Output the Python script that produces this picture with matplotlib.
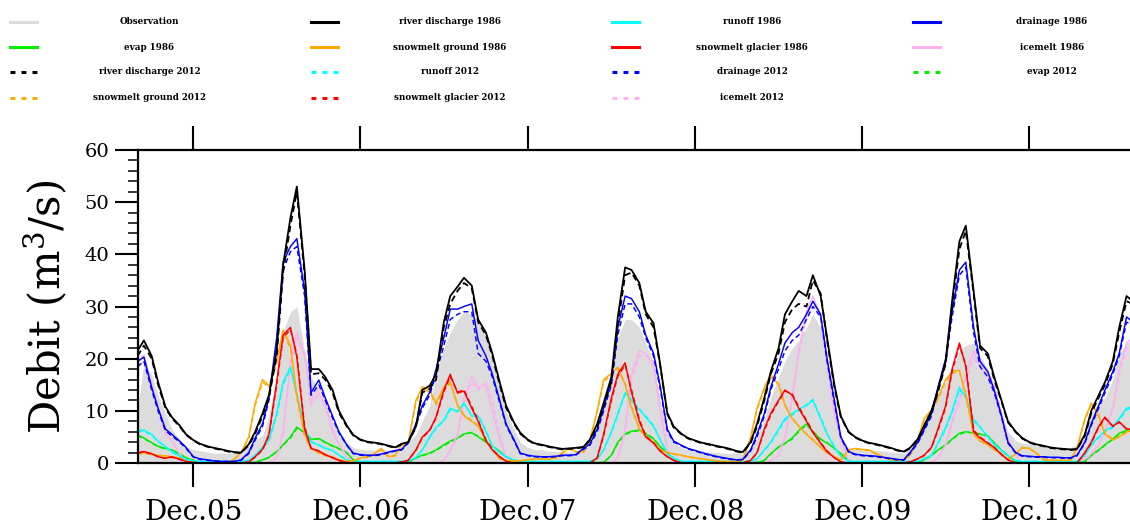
# Debit simulations 1986 / 2012 vs observation, half-monthly values
import matplotlib
matplotlib.use('Agg')
import matplotlib.pyplot as plt
import matplotlib.dates as mdates
from matplotlib.lines import Line2D
from matplotlib.ticker import MultipleLocator, FixedLocator
import pandas as pd

plt.rcParams['font.family'] = 'DejaVu Serif'
plt.rcParams['mathtext.fontset'] = 'dejavuserif'

# one value on the 1st and the 15th of each month, Aug 2005 - Aug 2011
dates = pd.date_range('2005-08-01', periods=145, freq='SMS')
# tick positions: 1st of December of each year
tick_dates = pd.to_datetime(['2005-12-01', '2006-12-01', '2007-12-01',
                             '2008-12-01', '2009-12-01', '2010-12-01'])

observation = [
    10.0, 19.0, 17.0, 13.0, 9.6, 6.5, 4.5, 3.1, 2.6, 2.4, 2.1, 1.9, 1.9, 1.9, 1.9, 2.3, 3.3, 4.5, 5.2, 9.0, 16.5, 25.0, 29.0, 29.9,
    21.5, 16.5, 14.0, 11.0, 8.0, 6.0, 4.0, 3.0, 2.6, 2.5, 2.5, 2.5, 2.5, 2.5, 3.0, 4.0, 5.5, 8.0, 11.0, 17.0, 22.0, 25.0, 27.5, 29.0,
    28.5, 27.0, 24.0, 20.0, 14.5, 9.8, 6.5, 4.0, 3.0, 2.6, 2.5, 2.3, 2.2, 2.1, 2.1, 2.2, 2.6, 3.4, 6.0, 10.5, 16.0, 24.0, 27.5, 27.5,
    26.0, 23.0, 19.2, 12.0, 6.0, 3.8, 3.0, 2.6, 2.4, 2.3, 2.1, 2.0, 1.9, 1.9, 1.9, 2.0, 3.0, 5.0, 8.5, 12.5, 16.5, 19.5, 22.0, 23.5,
    26.0, 28.5, 26.0, 19.0, 11.0, 5.0, 3.0, 2.6, 2.5, 2.5, 2.4, 2.3, 2.1, 2.0, 1.9, 2.8, 4.5, 6.5, 9.5, 12.7, 15.5, 18.0, 21.5, 22.5,
    23.0, 20.5, 18.0, 14.5, 10.0, 6.0, 4.3, 3.8, 3.6, 3.4, 3.1, 2.8, 2.6, 2.6, 3.0, 3.6, 5.5, 9.5, 11.5, 12.5, 16.0, 21.0, 23.0, 23.5,
    23.0,
]

river_1986 = [
    21.5, 23.5, 20.5, 15.5, 10.8, 8.8, 7.2, 5.5, 4.4, 3.7, 3.2, 2.9, 2.6, 2.3, 2.1, 2.0, 3.6, 6.0, 9.5, 13.0, 21.5, 38.0, 47.0, 53.0,
    37.0, 18.0, 18.0, 16.5, 14.0, 10.0, 7.2, 5.4, 4.5, 4.1, 3.9, 3.7, 3.3, 3.0, 3.7, 4.0, 7.0, 14.0, 14.8, 17.0, 27.0, 32.0, 33.8, 35.5,
    34.0, 27.5, 25.0, 21.0, 15.5, 11.0, 7.8, 5.8, 4.5, 3.8, 3.5, 3.2, 2.9, 2.7, 2.8, 2.9, 3.1, 4.5, 7.5, 11.5, 16.5, 28.0, 37.5, 37.0,
    34.5, 29.0, 26.8, 19.2, 9.6, 7.0, 5.6, 4.8, 4.3, 3.9, 3.6, 3.3, 3.0, 2.7, 2.3, 2.1, 4.0, 7.5, 12.5, 17.5, 22.0, 28.5, 31.0, 33.0,
    32.0, 36.0, 32.0, 24.0, 15.0, 9.0, 6.0, 5.0, 4.3, 3.9, 3.6, 3.3, 2.9, 2.5, 2.2, 2.9, 4.6, 7.2, 10.0, 14.0, 19.5, 31.0, 42.5, 45.5,
    33.0, 22.5, 21.0, 16.5, 12.0, 8.0, 6.0, 4.8, 4.0, 3.6, 3.3, 3.0, 2.8, 2.7, 2.6, 2.7, 5.5, 10.0, 13.0, 15.5, 19.5, 26.0, 32.0, 31.0,
    30.0,
]
river_2012 = [
    20.5, 22.5, 20.0, 15.0, 10.5, 8.6, 7.0, 5.4, 4.3, 3.6, 3.1, 2.8, 2.5, 2.2, 2.0, 1.9, 3.4, 5.6, 9.0, 12.5, 20.5, 36.5, 45.5, 52.0,
    36.0, 17.0, 17.2, 16.0, 13.5, 9.6, 7.0, 5.3, 4.4, 4.0, 3.8, 3.6, 3.2, 2.9, 3.6, 3.9, 6.8, 13.5, 14.2, 16.0, 26.0, 30.5, 33.0, 34.5,
    33.5, 27.0, 24.5, 20.5, 15.0, 10.6, 7.6, 5.6, 4.4, 3.7, 3.4, 3.1, 2.8, 2.6, 2.7, 2.8, 3.0, 4.3, 7.0, 11.0, 15.5, 26.5, 36.0, 36.5,
    34.0, 28.5, 26.0, 19.0, 9.4, 6.8, 5.5, 4.7, 4.2, 3.8, 3.5, 3.2, 2.9, 2.6, 2.2, 2.0, 3.8, 7.0, 12.0, 17.0, 21.0, 27.0, 29.5, 30.5,
    30.0, 35.0, 32.5, 23.5, 14.5, 8.8, 5.9, 4.9, 4.2, 3.8, 3.5, 3.2, 2.8, 2.4, 2.1, 2.8, 4.4, 7.0, 9.6, 13.5, 19.0, 30.0, 41.0, 44.5,
    32.5, 22.0, 20.5, 16.0, 11.8, 7.8, 5.9, 4.7, 3.9, 3.5, 3.2, 2.9, 2.7, 2.6, 2.5, 2.6, 5.2, 9.6, 12.5, 15.0, 19.0, 25.0, 31.0, 30.5,
    29.5,
]

drainage_1986 = [
    19.5, 20.3, 14.5, 10.5, 6.5, 5.5, 4.2, 3.0, 1.2, 0.8, 0.6, 0.4, 0.3, 0.3, 0.3, 0.6, 2.0, 4.8, 7.5, 12.5, 24.0, 38.5, 41.5, 43.0,
    33.0, 13.5, 15.9, 12.5, 9.0, 6.0, 3.5, 1.9, 1.6, 1.5, 1.5, 1.7, 2.1, 2.4, 2.6, 4.0, 7.5, 11.0, 13.5, 18.0, 24.0, 29.5, 29.5, 30.0,
    30.5, 23.5, 20.5, 17.0, 12.0, 7.5, 4.5, 1.9, 1.5, 1.3, 1.2, 1.2, 1.3, 1.5, 1.5, 1.6, 2.8, 3.6, 6.5, 10.5, 16.0, 26.0, 32.0, 31.5,
    29.0, 24.5, 21.0, 15.0, 6.5, 4.2, 3.4, 2.8, 2.4, 2.0, 1.6, 1.3, 1.0, 0.8, 0.6, 0.7, 2.5, 5.5, 9.5, 14.5, 19.0, 23.0, 25.0, 26.0,
    28.5, 31.0, 28.5, 20.0, 12.0, 5.0, 2.2, 1.7, 1.5, 1.4, 1.3, 1.1, 0.9, 0.7, 0.6, 2.0, 4.0, 6.5, 9.5, 14.5, 20.0, 29.0, 37.0, 38.5,
    26.0, 19.5, 17.5, 14.0, 9.0, 4.0, 2.0, 1.4, 1.3, 1.2, 1.2, 1.1, 1.1, 1.0, 1.0, 1.5, 4.0, 7.5, 11.0, 14.0, 17.5, 21.0, 28.0, 27.0,
    26.0,
]
drainage_2012 = [
    18.5, 19.5, 14.0, 10.0, 6.2, 5.2, 4.0, 2.8, 1.1, 0.7, 0.5, 0.4, 0.3, 0.3, 0.3, 0.5, 1.8, 4.4, 7.0, 12.0, 23.0, 37.0, 40.5, 41.5,
    32.0, 13.0, 15.0, 12.0, 8.6, 5.8, 3.4, 1.8, 1.5, 1.4, 1.4, 1.6, 2.0, 2.3, 2.5, 3.8, 7.2, 10.5, 13.0, 17.0, 22.5, 27.5, 28.5, 29.0,
    29.0, 21.0, 19.5, 16.5, 11.5, 7.2, 4.3, 1.8, 1.4, 1.2, 1.1, 1.1, 1.2, 1.4, 1.4, 1.5, 2.6, 3.4, 6.0, 10.0, 15.0, 24.5, 30.5, 30.5,
    28.0, 24.0, 20.5, 14.5, 6.2, 4.0, 3.3, 2.7, 2.3, 1.9, 1.5, 1.2, 0.9, 0.7, 0.6, 0.6, 2.3, 5.0, 9.0, 14.0, 18.0, 21.5, 23.5, 24.5,
    27.5, 30.0, 28.0, 19.5, 11.5, 4.8, 2.1, 1.6, 1.4, 1.3, 1.2, 1.0, 0.8, 0.6, 0.5, 1.8, 3.8, 6.2, 9.0, 14.0, 19.5, 28.0, 36.0, 37.5,
    25.0, 18.5, 16.5, 13.5, 8.8, 3.8, 1.9, 1.3, 1.2, 1.1, 1.1, 1.0, 1.0, 0.9, 0.9, 1.4, 3.8, 7.2, 10.5, 13.5, 17.0, 20.5, 27.0, 26.5,
    25.5,
]

runoff_1986 = [
    6.3, 6.3, 5.5, 4.2, 3.2, 2.2, 1.4, 0.7, 0.4, 0.3, 0.3, 0.3, 0.3, 0.3, 0.3, 0.3, 0.5, 1.5, 3.0, 4.4, 9.5, 15.5, 18.4, 13.0,
    6.5, 4.0, 3.4, 2.8, 2.4, 1.5, 0.6, 0.3, 0.3, 0.3, 0.3, 0.3, 0.3, 0.3, 0.3, 0.4, 1.0, 2.5, 5.0, 6.8, 8.2, 10.5, 9.8, 11.5,
    9.0, 9.0, 6.0, 3.2, 2.0, 1.2, 0.6, 0.3, 0.3, 0.3, 0.3, 0.3, 0.3, 0.3, 0.3, 0.3, 0.3, 0.3, 0.8, 2.5, 6.0, 9.5, 13.5, 12.0,
    10.2, 8.8, 7.0, 4.5, 1.9, 1.0, 0.3, 0.3, 0.3, 0.3, 0.3, 0.3, 0.3, 0.3, 0.3, 0.3, 0.3, 0.8, 2.5, 4.0, 6.5, 8.5, 9.5, 10.3,
    11.0, 12.0, 8.5, 5.5, 3.0, 1.3, 0.3, 0.3, 0.3, 0.3, 0.3, 0.3, 0.3, 0.3, 0.3, 0.3, 0.3, 0.8, 1.5, 3.8, 6.8, 10.0, 14.5, 12.5,
    8.0, 6.9, 5.0, 3.5, 2.4, 1.4, 0.5, 0.3, 0.3, 0.3, 0.3, 0.3, 0.3, 0.3, 0.3, 0.3, 1.5, 3.6, 5.0, 6.2, 7.0, 8.5, 10.5, 10.8,
    11.0,
]
runoff_2012 = [
    6.0, 6.1, 5.3, 4.1, 3.1, 2.1, 1.3, 0.7, 0.4, 0.3, 0.3, 0.3, 0.3, 0.3, 0.3, 0.3, 0.5, 1.4, 2.9, 4.2, 9.0, 15.0, 18.0, 13.4,
    6.8, 4.1, 3.5, 2.9, 2.4, 1.5, 0.6, 0.3, 0.3, 0.3, 0.3, 0.3, 0.3, 0.3, 0.3, 0.4, 1.0, 2.4, 4.8, 6.6, 8.0, 10.2, 10.0, 11.2,
    9.4, 9.2, 6.2, 3.3, 2.0, 1.2, 0.6, 0.3, 0.3, 0.3, 0.3, 0.3, 0.3, 0.3, 0.3, 0.3, 0.3, 0.3, 0.8, 2.4, 5.8, 9.2, 13.2, 12.2,
    10.4, 9.0, 7.2, 4.6, 1.9, 1.0, 0.3, 0.3, 0.3, 0.3, 0.3, 0.3, 0.3, 0.3, 0.3, 0.3, 0.3, 0.8, 2.4, 3.8, 6.2, 8.2, 9.2, 10.0,
    11.2, 12.2, 8.8, 5.7, 3.1, 1.3, 0.3, 0.3, 0.3, 0.3, 0.3, 0.3, 0.3, 0.3, 0.3, 0.3, 0.3, 0.8, 1.4, 3.6, 6.5, 9.6, 14.0, 12.8,
    8.4, 7.0, 5.1, 3.6, 2.4, 1.4, 0.5, 0.3, 0.3, 0.3, 0.3, 0.3, 0.3, 0.3, 0.3, 0.3, 1.4, 3.4, 4.8, 6.0, 6.8, 8.2, 10.2, 10.6,
    10.8,
]

snow_ground_1986 = [
    1.8, 2.0, 1.6, 1.5, 1.4, 1.2, 1.0, 0.3, 0.1, 0.0, 0.0, 0.0, 0.0, 0.0, 0.8, 2.0, 5.0, 11.5, 16.0, 14.8, 19.5, 25.5, 22.5, 13.0,
    5.5, 2.8, 2.0, 1.5, 1.2, 0.6, 0.3, 0.4, 1.0, 1.2, 1.8, 2.8, 1.2, 1.5, 3.5, 3.8, 12.0, 14.6, 14.0, 11.5, 14.6, 15.5, 11.0, 9.0,
    8.0, 7.0, 4.5, 2.5, 0.8, 0.5, 0.4, 0.4, 0.6, 0.8, 0.8, 0.7, 1.0, 2.0, 2.8, 2.2, 2.1, 4.5, 10.0, 16.0, 17.2, 18.4, 15.0, 10.5,
    6.5, 5.0, 4.0, 2.5, 2.0, 1.8, 1.5, 1.2, 1.0, 0.8, 0.6, 0.4, 0.3, 0.3, 0.3, 0.5, 5.0, 10.5, 14.5, 17.0, 15.0, 11.0, 8.5, 7.0,
    5.5, 4.4, 3.0, 1.9, 1.2, 0.6, 2.5, 2.8, 2.6, 2.5, 1.8, 1.2, 0.6, 0.5, 0.5, 1.5, 4.5, 8.5, 10.2, 12.5, 16.0, 17.5, 17.8, 13.0,
    5.5, 4.2, 3.5, 2.5, 1.8, 0.6, 1.8, 3.0, 2.8, 2.0, 0.6, 0.5, 0.5, 0.5, 0.5, 3.0, 8.5, 11.5, 9.0, 5.5, 4.4, 5.0, 6.0, 6.2,
    6.2,
]
snow_ground_2012 = [
    1.7, 1.9, 1.6, 1.4, 1.3, 1.1, 0.9, 0.3, 0.1, 0.0, 0.0, 0.0, 0.0, 0.0, 0.7, 1.9, 4.8, 11.0, 15.5, 14.5, 19.0, 25.0, 22.0, 12.5,
    5.2, 2.7, 1.9, 1.4, 1.1, 0.6, 0.3, 0.4, 0.9, 1.1, 1.7, 2.6, 1.1, 1.4, 3.3, 3.6, 11.5, 14.2, 13.6, 11.2, 14.2, 15.2, 11.2, 9.2,
    8.2, 7.2, 4.6, 2.6, 0.8, 0.5, 0.4, 0.4, 0.6, 0.7, 0.8, 0.7, 0.9, 1.9, 2.7, 2.1, 2.0, 4.3, 9.8, 15.5, 17.0, 18.0, 15.2, 10.8,
    6.6, 5.1, 4.0, 2.6, 2.0, 1.7, 1.4, 1.2, 0.9, 0.8, 0.6, 0.4, 0.3, 0.3, 0.3, 0.5, 4.8, 10.2, 14.0, 16.5, 15.2, 11.2, 8.6, 7.1,
    5.6, 4.5, 3.1, 2.0, 1.2, 0.6, 2.4, 2.7, 2.5, 2.4, 1.7, 1.1, 0.6, 0.5, 0.5, 1.4, 4.3, 8.2, 10.0, 12.2, 15.6, 17.2, 17.5, 13.2,
    5.7, 4.3, 3.5, 2.6, 1.8, 0.6, 1.7, 2.9, 2.7, 1.9, 0.6, 0.5, 0.5, 0.5, 0.5, 2.8, 8.2, 11.2, 9.2, 5.8, 4.5, 5.0, 5.9, 6.1,
    6.1,
]

snow_glacier_1986 = [
    2.0, 2.2, 1.8, 1.2, 0.9, 1.2, 0.7, 0.3, 0.1, 0.0, 0.0, 0.0, 0.0, 0.0, 0.0, 0.0, 0.2, 1.2, 2.6, 5.5, 15.5, 24.5, 26.0, 20.3,
    6.5, 2.8, 2.3, 1.6, 1.0, 0.5, 0.1, 0.0, 0.0, 0.0, 0.0, 0.0, 0.0, 0.0, 0.2, 0.5, 2.5, 5.0, 6.3, 8.8, 14.0, 17.0, 13.4, 13.8,
    10.5, 8.0, 4.2, 2.5, 1.2, 0.3, 0.0, 0.0, 0.0, 0.0, 0.0, 0.0, 0.0, 0.0, 0.0, 0.0, 0.0, 0.0, 1.0, 5.5, 12.5, 17.0, 19.2, 13.5,
    8.0, 5.0, 3.8, 2.3, 1.2, 0.5, 0.0, 0.0, 0.0, 0.0, 0.0, 0.0, 0.0, 0.0, 0.0, 0.0, 0.5, 2.0, 6.5, 9.5, 12.0, 14.0, 13.0, 10.5,
    8.0, 5.8, 3.8, 2.2, 1.0, 0.2, 0.0, 0.0, 0.0, 0.0, 0.0, 0.0, 0.0, 0.0, 0.0, 0.2, 0.8, 1.5, 3.0, 6.5, 11.0, 18.0, 23.0, 18.5,
    6.0, 4.8, 3.8, 3.0, 1.6, 0.6, 0.0, 0.0, 0.0, 0.0, 0.0, 0.0, 0.0, 0.0, 0.0, 0.0, 2.0, 4.0, 7.0, 8.8, 7.0, 7.9, 6.5, 6.5,
    6.5,
]
snow_glacier_2012 = [
    1.9, 2.1, 1.7, 1.2, 0.9, 1.1, 0.7, 0.3, 0.1, 0.0, 0.0, 0.0, 0.0, 0.0, 0.0, 0.0, 0.2, 1.1, 2.5, 5.2, 15.0, 24.0, 25.6, 20.8,
    7.0, 2.9, 2.3, 1.6, 1.0, 0.5, 0.1, 0.0, 0.0, 0.0, 0.0, 0.0, 0.0, 0.0, 0.2, 0.5, 2.4, 4.8, 6.2, 8.6, 13.6, 16.6, 13.6, 14.0,
    10.8, 8.2, 4.4, 2.6, 1.2, 0.3, 0.0, 0.0, 0.0, 0.0, 0.0, 0.0, 0.0, 0.0, 0.0, 0.0, 0.0, 0.0, 0.9, 5.2, 12.0, 16.6, 18.8, 14.0,
    8.4, 5.2, 3.9, 2.4, 1.2, 0.5, 0.0, 0.0, 0.0, 0.0, 0.0, 0.0, 0.0, 0.0, 0.0, 0.0, 0.5, 1.9, 6.2, 9.2, 11.8, 13.8, 13.2, 10.8,
    8.2, 6.0, 3.9, 2.3, 1.0, 0.2, 0.0, 0.0, 0.0, 0.0, 0.0, 0.0, 0.0, 0.0, 0.0, 0.2, 0.8, 1.4, 2.9, 6.2, 10.6, 17.5, 22.5, 18.8,
    6.3, 5.0, 3.9, 3.0, 1.6, 0.6, 0.0, 0.0, 0.0, 0.0, 0.0, 0.0, 0.0, 0.0, 0.0, 0.0, 1.9, 3.8, 6.8, 8.6, 7.1, 7.8, 6.6, 6.5,
    6.5,
]

icemelt_1986 = [
    19.2, 20.7, 15.0, 10.5, 5.8, 4.3, 1.8, 0.3, 0.0, 0.0, 0.0, 0.0, 0.0, 0.0, 0.0, 0.0, 0.0, 0.0, 0.0, 0.0, 1.0, 6.0, 19.5, 25.0,
    21.0, 11.0, 13.4, 11.0, 6.0, 3.5, 1.2, 0.3, 0.0, 0.0, 0.0, 0.0, 0.0, 0.0, 0.0, 0.0, 0.0, 0.0, 0.0, 0.0, 0.5, 2.5, 5.5, 12.5,
    16.5, 14.5, 15.0, 10.0, 4.5, 1.0, 0.0, 0.0, 0.0, 0.0, 0.0, 0.0, 0.0, 0.0, 0.0, 0.0, 0.0, 0.0, 0.0, 0.0, 0.0, 1.0, 6.5, 17.0,
    21.5, 21.0, 18.5, 10.0, 2.5, 0.5, 0.0, 0.0, 0.0, 0.0, 0.0, 0.0, 0.0, 0.0, 0.0, 0.0, 0.0, 0.0, 0.0, 0.5, 1.5, 5.0, 13.0, 21.5,
    29.0, 32.0, 28.0, 19.0, 9.5, 4.5, 0.5, 0.0, 0.0, 0.0, 0.0, 0.0, 0.0, 0.0, 0.0, 0.0, 0.0, 0.0, 0.0, 1.0, 3.5, 8.0, 12.0, 17.0,
    21.5, 18.5, 16.5, 14.0, 9.0, 4.5, 1.5, 0.0, 0.0, 0.0, 0.0, 0.0, 0.0, 0.0, 0.0, 0.3, 0.8, 1.8, 3.5, 6.5, 10.5, 17.8, 23.0, 24.0,
    24.0,
]
icemelt_2012 = [
    18.2, 19.5, 14.6, 10.2, 5.6, 4.2, 1.7, 0.3, 0.0, 0.0, 0.0, 0.0, 0.0, 0.0, 0.0, 0.0, 0.0, 0.0, 0.0, 0.0, 0.9, 5.5, 18.5, 24.0,
    20.5, 12.0, 14.5, 11.8, 6.5, 3.6, 1.2, 0.3, 0.0, 0.0, 0.0, 0.0, 0.0, 0.0, 0.0, 0.0, 0.0, 0.0, 0.0, 0.0, 0.4, 2.2, 5.0, 11.5,
    15.5, 14.0, 15.5, 12.0, 5.5, 1.2, 0.0, 0.0, 0.0, 0.0, 0.0, 0.0, 0.0, 0.0, 0.0, 0.0, 0.0, 0.0, 0.0, 0.0, 0.0, 0.9, 6.0, 16.0,
    20.5, 20.6, 19.5, 11.5, 2.8, 0.5, 0.0, 0.0, 0.0, 0.0, 0.0, 0.0, 0.0, 0.0, 0.0, 0.0, 0.0, 0.0, 0.0, 0.4, 1.3, 4.6, 12.0, 20.5,
    28.0, 31.0, 28.0, 19.5, 10.0, 4.6, 0.5, 0.0, 0.0, 0.0, 0.0, 0.0, 0.0, 0.0, 0.0, 0.0, 0.0, 0.0, 0.0, 0.9, 3.2, 7.5, 11.5, 16.0,
    20.0, 18.5, 17.5, 15.0, 9.8, 4.8, 1.6, 0.0, 0.0, 0.0, 0.0, 0.0, 0.0, 0.0, 0.0, 0.3, 0.7, 1.6, 3.2, 6.0, 10.0, 17.0, 22.0, 23.0,
    23.0,
]

evap_1986 = [
    5.4, 4.8, 3.9, 3.2, 2.8, 2.5, 1.8, 1.0, 0.5, 0.2, 0.1, 0.1, 0.1, 0.1, 0.1, 0.1, 0.1, 0.1, 0.6, 1.1, 2.2, 3.5, 5.0, 6.9,
    5.8, 4.5, 4.7, 4.0, 3.3, 2.8, 2.0, 0.6, 0.2, 0.1, 0.1, 0.1, 0.1, 0.1, 0.1, 0.1, 1.0, 1.5, 1.9, 2.5, 3.5, 4.2, 4.8, 5.6,
    5.8, 5.0, 4.0, 3.2, 2.2, 1.2, 0.3, 0.1, 0.1, 0.1, 0.1, 0.1, 0.1, 0.1, 0.1, 0.1, 0.1, 0.1, 0.1, 0.1, 1.5, 4.0, 5.6, 6.1,
    6.3, 5.6, 4.6, 3.1, 1.9, 0.6, 0.1, 0.1, 0.1, 0.1, 0.1, 0.1, 0.1, 0.1, 0.1, 0.1, 0.1, 0.1, 0.5, 1.8, 3.1, 3.8, 4.8, 6.2,
    7.5, 6.0, 4.5, 3.8, 2.8, 1.8, 0.5, 0.1, 0.1, 0.1, 0.1, 0.1, 0.1, 0.1, 0.1, 0.1, 0.1, 0.6, 1.5, 2.5, 3.5, 4.6, 5.7, 6.0,
    5.7, 5.5, 5.2, 3.8, 2.4, 1.4, 0.3, 0.1, 0.1, 0.1, 0.1, 0.1, 0.1, 0.1, 0.1, 0.1, 0.3, 1.5, 2.5, 3.5, 4.6, 5.7, 6.3, 6.5,
    6.5,
]
evap_2012 = [
    5.2, 4.7, 3.8, 3.1, 2.7, 2.4, 1.7, 1.0, 0.5, 0.2, 0.1, 0.1, 0.1, 0.1, 0.1, 0.1, 0.1, 0.1, 0.6, 1.0, 2.1, 3.4, 4.8, 6.6,
    5.9, 4.6, 4.6, 3.9, 3.2, 2.7, 1.9, 0.6, 0.2, 0.1, 0.1, 0.1, 0.1, 0.1, 0.1, 0.1, 0.9, 1.4, 1.8, 2.4, 3.3, 4.0, 4.7, 5.5,
    5.9, 5.1, 4.1, 3.3, 2.2, 1.2, 0.3, 0.1, 0.1, 0.1, 0.1, 0.1, 0.1, 0.1, 0.1, 0.1, 0.1, 0.1, 0.1, 0.1, 1.4, 3.8, 5.4, 6.0,
    6.2, 5.7, 4.7, 3.2, 1.9, 0.6, 0.1, 0.1, 0.1, 0.1, 0.1, 0.1, 0.1, 0.1, 0.1, 0.1, 0.1, 0.1, 0.5, 1.7, 3.0, 3.7, 4.6, 6.0,
    7.3, 6.1, 4.6, 3.9, 2.8, 1.8, 0.5, 0.1, 0.1, 0.1, 0.1, 0.1, 0.1, 0.1, 0.1, 0.1, 0.1, 0.6, 1.4, 2.4, 3.4, 4.5, 5.5, 5.9,
    5.8, 5.6, 5.2, 3.9, 2.5, 1.4, 0.3, 0.1, 0.1, 0.1, 0.1, 0.1, 0.1, 0.1, 0.1, 0.1, 0.3, 1.4, 2.4, 3.4, 4.5, 5.5, 6.1, 6.3,
    6.3,
]

GRAY = '#dcdcdc'
ORANGE = '#ffaa00'
PINK = '#ffb0f0'
GREEN = '#00ee00'

# legend entries in reading order (row by row, 4 per row)
legend_entries = [
    ('Observation', GRAY, False),
    ('river discharge 1986', 'black', False),
    ('runoff 1986', 'cyan', False),
    ('drainage 1986', 'blue', False),
    ('evap 1986', GREEN, False),
    ('snowmelt ground 1986', ORANGE, False),
    ('snowmelt glacier 1986', 'red', False),
    ('icemelt 1986', PINK, False),
    ('river discharge 2012', 'black', True),
    ('runoff 2012', 'cyan', True),
    ('drainage 2012', 'blue', True),
    ('evap 2012', GREEN, True),
    ('snowmelt ground 2012', ORANGE, True),
    ('snowmelt glacier 2012', 'red', True),
    ('icemelt 2012', PINK, True),
]

# draw order for the model lines
series = [
    (evap_1986, GREEN, False), (evap_2012, GREEN, True),
    (icemelt_1986, PINK, False), (icemelt_2012, PINK, True),
    (runoff_1986, 'cyan', False), (runoff_2012, 'cyan', True),
    (snow_ground_1986, ORANGE, False), (snow_ground_2012, ORANGE, True),
    (snow_glacier_1986, 'red', False), (snow_glacier_2012, 'red', True),
    (drainage_1986, 'blue', False), (drainage_2012, 'blue', True),
    (river_1986, 'black', False), (river_2012, 'black', True),
]


def run():
    fig = plt.figure(figsize=(11.3, 5.29), dpi=100)
    W, H = 1130.0, 529.0
    # axes runs past the right border of the picture, like the original crop
    ax = fig.add_axes([137.5 / W, 66 / H, 1060 / W, 313 / H])

    ax.fill_between(dates, 0, observation, color=GRAY, lw=0, zorder=1)
    for values, color, dashed in series:
        lw = 1.3 if color == 'black' else 1.05
        ls = (0, (3.5, 2.2)) if dashed else '-'
        ax.plot(dates, values, color=color, lw=lw, ls=ls, zorder=2)

    start = pd.Timestamp('2005-08-01')
    ax.set_xlim(start, start + pd.Timedelta(days=2315))
    ax.set_ylim(0, 60)

    ax.xaxis.set_major_locator(FixedLocator(mdates.date2num(tick_dates)))
    ax.xaxis.set_major_formatter(mdates.DateFormatter('%b.%y'))
    ax.yaxis.set_major_locator(MultipleLocator(10))
    ax.yaxis.set_minor_locator(MultipleLocator(2))

    ax.tick_params(axis='x', which='major', direction='out', length=17, width=1.5,
                   top=True, bottom=True, labelsize=20, pad=9)
    ax.tick_params(axis='y', which='major', direction='out', length=16.5, width=1.5,
                   right=False, labelsize=14, pad=4)
    ax.tick_params(axis='y', which='minor', direction='out', length=7, width=1.1, right=False)
    for side in ax.spines.values():
        side.set_linewidth(1.6)

    ax.set_ylabel('Debit (m$^3$/s)', fontsize=30, labelpad=10)

    # hand-made legend block on top, 4 columns x 4 rows
    col_x = [10, 311, 612, 913]
    col_text = [149.5, 450, 752, 1052]
    row_y = [22, 47, 72, 98]
    for i, (label, color, dashed) in enumerate(legend_entries):
        r, c = divmod(i, 4)
        y = 1 - row_y[r] / H
        ls = (0, (1.6, 2.0)) if dashed else '-'
        fig.add_artist(Line2D([col_x[c] / W, (col_x[c] + 27) / W], [y, y],
                              transform=fig.transFigure, color=color, lw=2.2, ls=ls))
        fig.text(col_text[c] / W, y, label, ha='center', va='center',
                 fontsize=6.3, fontweight='bold')

    fig.savefig('out.png', dpi=100)


if __name__ == '__main__':
    run()
